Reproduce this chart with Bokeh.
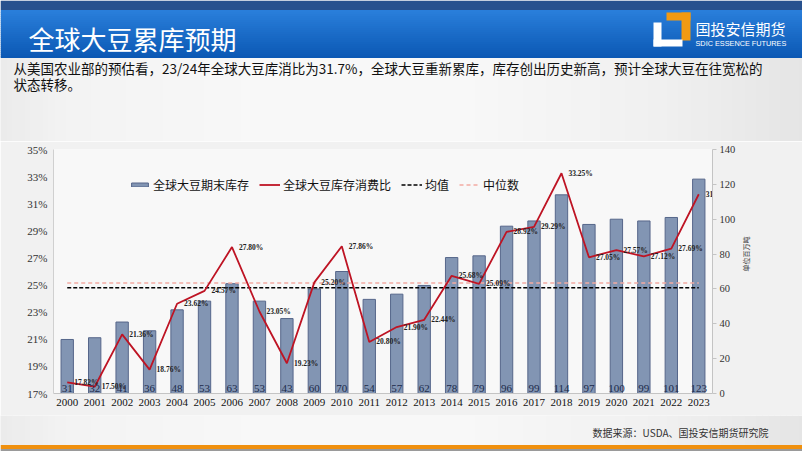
import math
from bokeh.plotting import figure
from bokeh.layouts import column
from bokeh.models import (FactorRange, Range1d, LinearAxis, FixedTicker, PrintfTickFormatter,
                          Legend, LegendItem, ColumnDataSource)
from bokeh.core.properties import value
from bokeh.embed import file_html
from bokeh.resources import INLINE

# ---------------- data ----------------
years = ["2000", "2001", "2002", "2003", "2004", "2005", "2006", "2007", "2008", "2009",
         "2010", "2011", "2012", "2013", "2014", "2015", "2016", "2017", "2018", "2019",
         "2020", "2021", "2022", "2023"]
stocks = [31, 32, 41, 36, 48, 53, 63, 53, 43, 60, 70, 54, 57, 62, 78, 79, 96, 99, 114, 97,
          100, 99, 101, 123]
ratio = [17.82, 17.50, 21.36, 18.76, 23.62, 24.57, 27.80, 23.05, 19.23, 25.20, 27.86, 20.80,
         21.90, 22.44, 25.68, 25.09, 28.92, 29.29, 33.25, 27.05, 27.57, 27.12, 27.69, 31.70]
mean_ratio = 24.80
median_ratio = 25.15
left_ticks = [17, 19, 21, 23, 25, 27, 29, 31, 33, 35]
right_ticks = [0, 20, 40, 60, 80, 100, 120, 140]

title_text = "全球大豆累库预期"
subtitle1 = "从美国农业部的预估看，23/24年全球大豆库消比为31.7%，全球大豆重新累库，库存创出历史新高，预计全球大豆在往宽松的"
subtitle2 = "状态转移。"
source_text = "数据来源：USDA、国投安信期货研究院"
legend_labels = ["全球大豆期末库存", "全球大豆库存消费比", "均值", "中位数"]
right_axis_title = "单位百万吨"
logo_cn = "国投安信期货"
logo_en = "SDIC ESSENCE FUTURES"

# ---------------- styling ----------------
W = 802
BAR_FILL = "#8295b3"
BAR_LINE = "#56668a"
RED = "#be1424"
SERIF = "Liberation Serif"
CJK = "Noto Sans CJK SC"
BG_STOPS = [(0, "#ebebeb"), (70, "#f3f3f3"), (260, "#f8f8f8"), (460, "#f8f8f8"),
            (660, "#f0f0f0"), (802, "#e5e5e5")]


def hexmix(c1, c2, t):
    a = [int(c1[i:i + 2], 16) for i in (1, 3, 5)]
    b = [int(c2[i:i + 2], 16) for i in (1, 3, 5)]
    return "#%02x%02x%02x" % tuple(round(a[k] + (b[k] - a[k]) * t) for k in range(3))


def grad(stops, x):
    for (x0, c0), (x1, c1) in zip(stops[:-1], stops[1:]):
        if x0 <= x <= x1:
            return hexmix(c0, c1, (x - x0) / (x1 - x0) if x1 > x0 else 0)
    return stops[-1][1]


def bg_strips(fig, y0, y1, x0=0, x1=W, step=6):
    L, R, T, B, C = [], [], [], [], []
    x = x0
    while x < x1:
        L.append(x)
        R.append(min(x + step, x1) + 0.6)
        T.append(y0)
        B.append(y1)
        C.append(grad(BG_STOPS, x + step / 2))
        x += step
    fig.quad(left=L, right=R, top=T, bottom=B, fill_color=C, line_color=None)


def no_align(f):
    try:
        f.frame_align = False
    except Exception:
        pass


def deco_fig(y_top, y_bottom):
    f = figure(width=W, height=y_bottom - y_top, x_range=Range1d(0, W),
               y_range=Range1d(y_bottom, y_top), output_backend="svg", toolbar_location=None,
               x_axis_type=None, y_axis_type=None, min_border=0)
    f.grid.visible = False
    f.outline_line_color = None
    f.background_fill_color = "#f3f3f3"
    f.border_fill_color = "#f3f3f3"
    no_align(f)
    return f


def txt(fig, x, y, s, size, color="#111111", font=CJK, align="left"):
    fig.text(x=[x], y=[y], text=[s], text_font=value(font), text_font_size=size,
             text_color=color, text_align=align, text_baseline="middle")


# ---------------- header + subtitle ----------------
HEAD_B = 141
head = deco_fig(0, HEAD_B)
bg_strips(head, 57, HEAD_B)
head.quad(left=[0], right=[W], top=[0], bottom=[9.5], fill_color="#28518e", line_color=None)
hy = 9.5
HL, HR, HT, HB, HC = [], [], [], [], []
while hy < 57:
    HL.append(0)
    HR.append(W)
    HT.append(hy)
    HB.append(min(hy + 2, 57) + 0.4)
    HC.append(grad([(9.5, "#2a7fdb"), (57, "#0b58b4")], hy + 1))
    hy += 2
head.quad(left=HL, right=HR, top=HT, bottom=HB, fill_color=HC, line_color=None)
# logo icon
ORANGE = "#f29a12"
head.quad(left=[666, 681], right=[690, 690], top=[12, 12], bottom=[20, 40],
          fill_color=ORANGE, line_color=None)
head.quad(left=[653, 653], right=[661, 682], top=[22, 39], bottom=[46, 46],
          fill_color="#ffffff", line_color=None)
txt(head, 28, 38, title_text, "26px", "#ffffff")
txt(head, 695, 28, logo_cn, "15px", "#ffffff")
txt(head, 695, 43, logo_en, "7.3px", "#ffffff", font="Liberation Sans")
txt(head, 13, 67, subtitle1, "13.5px", "#111111")
txt(head, 13, 83, subtitle2, "13.5px", "#111111")

# ---------------- chart ----------------
chart = figure(width=W, height=274, x_range=FactorRange(factors=years, range_padding=0),
               y_range=Range1d(17, 35), output_backend="svg", toolbar_location=None,
               min_border_left=53, min_border_right=90, min_border_top=8,
               min_border_bottom=22)
no_align(chart)
chart.extra_y_ranges = {"right": Range1d(0, 140)}
chart.background_fill_color = "#f8f8f8"
chart.border_fill_color = "#f1f1f1"
chart.outline_line_color = None
chart.grid.visible = False

src = ColumnDataSource(dict(year=years, stocks=stocks, ratio=ratio,
                            ratio_lbl=["%.2f%%" % v for v in ratio],
                            stock_lbl=[str(v) for v in stocks],
                            zero=[0] * len(years)))

bars = chart.vbar(x="year", top="stocks", width=0.45, bottom=0, y_range_name="right",
                  source=src, fill_color=BAR_FILL, line_color=BAR_LINE, line_width=1)

med = chart.line(x=[years[0], years[-1]], y=[median_ratio, median_ratio],
                 line_color="#f2aaa2", line_width=1.5, line_dash="4 3")
mean = chart.line(x=[years[0], years[-1]], y=[mean_ratio, mean_ratio], line_color="#000000",
                  line_width=1.5, line_dash="4 2")

red = chart.line(x="year", y="ratio", source=src, line_color=RED, line_width=1.8)

chart.text(x="year", y="zero", text="stock_lbl", y_range_name="right", source=src,
           text_align="center", text_baseline="alphabetic", y_offset=-5,
           text_font=value(SERIF), text_font_size="11px", text_color="#1c2a4a")

chart.text(x="year", y="ratio", text="ratio_lbl", source=src, x_offset=7,
           text_align="left", text_baseline="middle",
           text_font=value(SERIF), text_font_size="7.5px", text_font_style="bold",
           text_color="#222222")

yax = chart.yaxis[0]
yax.ticker = FixedTicker(ticks=left_ticks)
yax.formatter = PrintfTickFormatter(format="%d%%")
yax.axis_line_color = "#d0d0d0"
yax.major_tick_out = 0
yax.major_tick_in = 0
yax.minor_tick_out = 0
yax.minor_tick_in = 0
yax.major_label_standoff = 6
yax.major_label_text_font = SERIF
yax.major_label_text_font_size = "11px"
yax.major_label_text_color = "#333333"

rax = LinearAxis(y_range_name="right", ticker=FixedTicker(ticks=right_ticks),
                 axis_label=right_axis_title)
rax.axis_line_color = "#c4c4c4"
rax.major_tick_line_color = "#c4c4c4"
rax.major_tick_out = 4
rax.major_tick_in = 0
rax.minor_tick_out = 0
rax.minor_tick_in = 0
rax.major_label_standoff = 3
rax.major_label_text_font = SERIF
rax.major_label_text_font_size = "10.5px"
rax.major_label_text_color = "#333333"
rax.axis_label_text_font = CJK
rax.axis_label_text_font_size = "7px"
rax.axis_label_text_font_style = "normal"
rax.axis_label_text_color = "#333333"
rax.axis_label_standoff = 8
try:
    rax.axis_label_orientation = math.pi / 2
except Exception:
    pass
chart.add_layout(rax, "right")

xax = chart.xaxis[0]
xax.axis_line_color = "#c4c4c4"
xax.major_tick_out = 0
xax.major_tick_in = 0
xax.major_label_standoff = 5
xax.major_label_text_font = SERIF
xax.major_label_text_font_size = "11px"
xax.major_label_text_color = "#111111"

legend = Legend(items=[LegendItem(label=legend_labels[0], renderers=[bars]),
                       LegendItem(label=legend_labels[1], renderers=[red]),
                       LegendItem(label=legend_labels[2], renderers=[mean]),
                       LegendItem(label=legend_labels[3], renderers=[med])],
                orientation="horizontal", location=(76, 200), glyph_width=21, glyph_height=5,
                label_height=14, label_standoff=3, spacing=10, padding=0, margin=0,
                border_line_color=None, background_fill_alpha=0,
                label_text_font=CJK, label_text_font_size="12px", label_text_color="#111111")
chart.add_layout(legend)

# ---------------- footer ----------------
foot = deco_fig(415, 451)
bg_strips(foot, 415, 445)
foot.quad(left=[0], right=[W], top=[444.5], bottom=[448.5], fill_color="#f0900e",
          line_color=None)
foot.quad(left=[0], right=[W], top=[448.5], bottom=[451], fill_color="#9a9a9a",
          line_color=None)
txt(foot, 768, 432, source_text, "10px", "#333333", align="right")

page = column(head, chart, foot, spacing=0)
open("out.html", "w").write(file_html(page, INLINE))
